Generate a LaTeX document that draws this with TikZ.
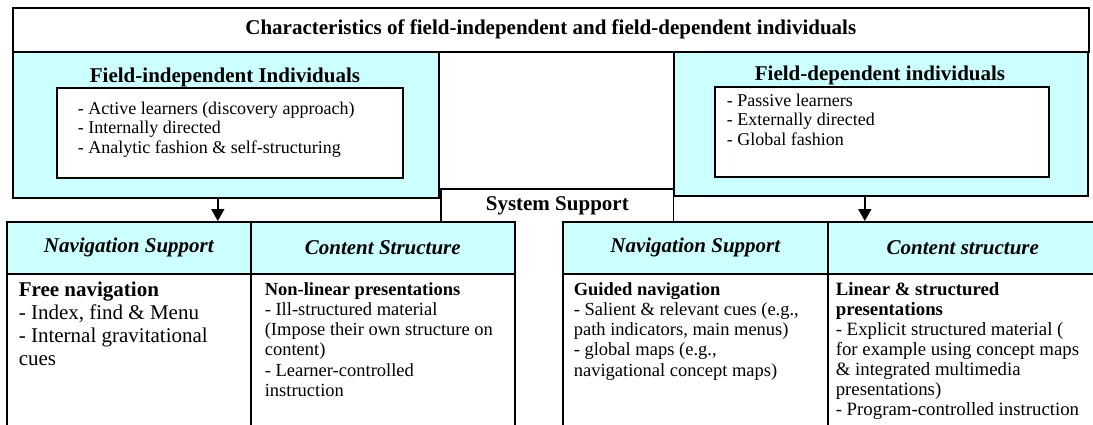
\documentclass[tikz,border=0pt]{standalone}
\usepackage{fontspec}
\setmainfont{Liberation Serif}
\usetikzlibrary{arrows.meta}
\definecolor{palecyan}{HTML}{CCFFFF}

\begin{document}
\begin{tikzpicture}[x=1pt,y=-1pt,line width=1.6pt,
        box/.style={draw,rectangle,inner sep=0pt,anchor=north west},
        cyanbox/.style={box,fill=palecyan},
        txt/.style={inner sep=0pt,anchor=base west,align=left},
        head/.style={font=\fontsize{21}{24}\selectfont\bfseries},
        colhead/.style={font=\fontsize{21}{24}\selectfont\bfseries\itshape},
        item/.style={font=\fontsize{18}{19.5}\selectfont},
        cell/.style={font=\fontsize{18.5}{20.3}\selectfont},
        down/.style={-{Triangle[width=13pt,length=12pt]}}]
        \useasboundingbox (0,0) rectangle (1093,424);

{\node[box,head,minimum width=1076pt,minimum height=44pt] (title) at (12,7) {Characteristics of field-independent and field-dependent individuals};}

% the two groups of learners (text nodes sit on their last baseline)
{\node[cyanbox,minimum width=426pt,minimum height=146pt] (indep) at (12,51) {};}
{\node[head,anchor=base] (indephead) at (225,82) {Field-independent Individuals};}
{\node[box,fill=white,minimum width=346pt,minimum height=90pt] (indeplist) at (56,87) {};}
{\node[txt,item] (indeptext) at (77,153) {- Active learners (discovery approach)\\- Internally directed\\- Analytic fashion \& self-structuring};}

{\node[cyanbox,minimum width=414pt,minimum height=144pt] (dep) at (673,51) {};}
{\node[head,anchor=base] (dephead) at (880,80) {Field-dependent individuals};}
{\node[box,fill=white,minimum width=334pt,minimum height=90pt] (deplist) at (714,86) {};}
{\node[txt,item] (deptext) at (726,145) {- Passive learners\\- Externally directed\\- Global fashion};}

% system support
{\node[head,inner sep=0pt,anchor=north west,minimum width=231pt,minimum height=32pt] (sys) at (441,189) {System Support};}
\draw (sys.south west) |- (sys.north east) -- (sys.south east);

% the table heads and cells
\foreach \nm/\x/\w/\t in {navhL/6/244/Navigation Support,conthL/250/264/Content Structure,navhR/562/265/Navigation Support,conthR/827/270/Content structure}
        {\node[cyanbox,colhead,minimum width=\w pt,minimum height=52pt] (\nm) at (\x,221) {\t};}
\foreach \nm/\x/\w in {navbL/6/244,contbL/250/264,navbR/562/265,contbR/827/270}
        {\node[box,minimum width=\w pt,minimum height=160pt] (\nm) at (\x,273) {};}

{\node[txt,font=\fontsize{21}{23}\selectfont] (navtextL) at (18,365) {\textbf{Free navigation}\\- Index, find \& Menu\\- Internal gravitational\\cues};}
{\node[txt,cell] (conttextL) at (264,396.5) {\textbf{Non-linear presentations}\\- Ill-structured material\\(Impose their own structure on\\content)\\- Learner-controlled\\instruction};}
{\node[txt,cell] (navtextR) at (573,376.2) {\textbf{Guided navigation}\\- Salient \& relevant cues (e.g.,\\path indicators, main menus)\\- global maps (e.g.,\\navigational concept maps)};}
{\node[txt,font=\fontsize{18.8}{20}\selectfont] (conttextR) at (835,415) {\textbf{Linear \& structured}\\\textbf{presentations}\\- Explicit structured material (\\for example using concept maps\\\& integrated multimedia\\presentations)\\- Program-controlled instruction};}

\draw[down] ([xshift=-8pt]indep.south) -- ([xshift=-8pt]indep.south |- navhL.north);
\draw[down] ([xshift=-16pt]dep.south) -- ([xshift=-16pt]dep.south |- conthR.north);

\end{tikzpicture}
\end{document}
